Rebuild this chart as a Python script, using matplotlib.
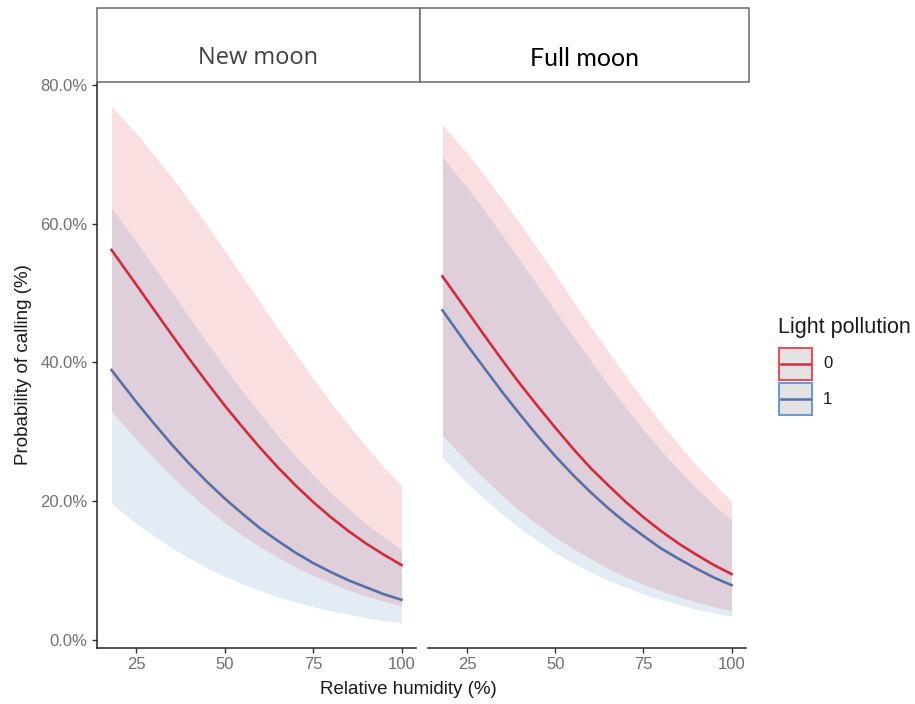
import matplotlib
matplotlib.use('Agg')
import matplotlib.pyplot as plt
from matplotlib.ticker import PercentFormatter
from matplotlib.patches import Rectangle

plt.rcParams['font.family'] = ['Liberation Sans', 'DejaVu Sans']

# humidity values the predictions were read at
humidity = [18, 25, 30, 35, 40, 45, 50, 55, 60, 65, 70, 75, 80, 85, 90, 95, 100]

# New moon panel, light pollution 0 / 1 (percent)
new_lp0_fit = [56.2, 51.2, 47.6, 44.0, 40.5, 37.1, 33.8, 30.7, 27.7, 24.9, 22.3, 19.9, 17.7, 15.7, 13.9, 12.3, 10.8]
new_lp0_lo = [33.0, 28.9, 26.2, 23.6, 21.2, 19.0, 16.9, 15.1, 13.4, 11.9, 10.5, 9.3, 8.2, 7.2, 6.3, 5.6, 4.9]
new_lp0_hi = [76.9, 73.0, 69.9, 66.7, 63.3, 59.8, 56.1, 52.4, 48.7, 44.9, 41.3, 37.7, 34.2, 31.0, 27.9, 24.9, 22.3]
new_lp1_fit = [38.9, 34.3, 31.2, 28.2, 25.4, 22.8, 20.4, 18.2, 16.1, 14.3, 12.6, 11.1, 9.8, 8.6, 7.6, 6.6, 5.8]
new_lp1_lo = [19.7, 16.8, 15.0, 13.3, 11.8, 10.4, 9.2, 8.1, 7.1, 6.2, 5.5, 4.8, 4.2, 3.7, 3.2, 2.8, 2.5]
new_lp1_hi = [62.3, 57.4, 53.8, 50.2, 46.5, 42.9, 39.3, 35.9, 32.6, 29.5, 26.5, 23.8, 21.2, 18.9, 16.7, 14.8, 13.0]

# Full moon panel
full_lp0_fit = [52.4, 47.4, 43.8, 40.3, 36.9, 33.7, 30.6, 27.6, 24.8, 22.3, 19.9, 17.7, 15.7, 13.9, 12.3, 10.8, 9.5]
full_lp0_lo = [29.5, 25.7, 23.2, 20.8, 18.6, 16.6, 14.8, 13.2, 11.7, 10.3, 9.1, 8.0, 7.1, 6.2, 5.5, 4.8, 4.2]
full_lp0_hi = [74.3, 70.1, 66.9, 63.5, 60.0, 56.4, 52.7, 48.9, 45.2, 41.6, 38.0, 34.6, 31.3, 28.2, 25.2, 22.5, 20.0]
full_lp1_fit = [47.5, 42.5, 39.1, 35.7, 32.5, 29.4, 26.5, 23.8, 21.3, 19.0, 16.9, 15.0, 13.2, 11.7, 10.3, 9.0, 7.9]
full_lp1_lo = [26.3, 22.6, 20.3, 18.1, 16.1, 14.3, 12.6, 11.1, 9.8, 8.6, 7.6, 6.6, 5.8, 5.1, 4.4, 3.9, 3.4]
full_lp1_hi = [69.6, 65.2, 61.8, 58.3, 54.7, 51.1, 47.4, 43.8, 40.3, 36.8, 33.5, 30.3, 27.3, 24.5, 21.9, 19.5, 17.3]

panels = ['New moon', 'Full moon']
legend_labels = ['0', '1']
x_ticks = [25, 50, 75, 100]
y_ticks = [0, 20, 40, 60, 80]

red = '#d42b3c'
blue = '#5870a8'
red_fill = '#e42a37'
blue_fill = '#447ab6'

W, H = 915, 704
fig = plt.figure(figsize=(W / 100, H / 100), dpi=100)


def fax(x0, y0, x1, y1):
    # pixel box (top-left origin) -> figure fraction
    return [x0 / W, 1 - y1 / H, (x1 - x0) / W, (y1 - y0) / H]


ax1 = fig.add_axes(fax(97, 82, 416, 648))
ax2 = fig.add_axes(fax(428, 82, 746, 648))

series = [
    (ax1, new_lp0_fit, new_lp0_lo, new_lp0_hi, new_lp1_fit, new_lp1_lo, new_lp1_hi),
    (ax2, full_lp0_fit, full_lp0_lo, full_lp0_hi, full_lp1_fit, full_lp1_lo, full_lp1_hi),
]

for ax, f0, lo0, hi0, f1, lo1, hi1 in series:
    ax.fill_between(humidity, lo0, hi0, color=red_fill, alpha=0.15, linewidth=0)
    ax.fill_between(humidity, lo1, hi1, color=blue_fill, alpha=0.15, linewidth=0)
    ax.plot(humidity, f0, color=red, lw=1.9, solid_joinstyle='round')
    ax.plot(humidity, f1, color=blue, lw=1.9, solid_joinstyle='round')
    ax.set_xlim(13.9, 104.1)
    ax.set_ylim(-1.15, 80.4)
    ax.set_xticks(x_ticks)
    ax.set_yticks(y_ticks)
    ax.yaxis.set_major_formatter(PercentFormatter(xmax=100, decimals=1))
    for s in ['top', 'right']:
        ax.spines[s].set_visible(False)
    for s in ['left', 'bottom']:
        ax.spines[s].set_linewidth(1.1)
        ax.spines[s].set_color('#222222')
    ax.tick_params(length=3.8, width=1.0, color='#333333', labelcolor='#707070',
                   labelsize=12, pad=3)
    ax.patch.set_visible(False)

ax2.spines['left'].set_visible(False)
ax2.tick_params(axis='y', left=False, labelleft=False)

ax1.set_ylabel('Probability of calling (%)', fontsize=13.5, color='#1a1a1a', labelpad=6)
fig.text(408 / W, 1 - 690 / H, 'Relative humidity (%)', fontsize=13.5,
         color='#1a1a1a', ha='center', va='center')

# facet strips
strip_boxes = [(97, 8, 420, 82), (420, 8, 749, 82)]
strip_fonts = [('Open Sans', '#404040', 17), ('Lato', '#000000', 18)]
for (x0, y0, x1, y1), name, (fam, col, fs) in zip(strip_boxes, panels, strip_fonts):
    fig.add_artist(Rectangle((x0 / W, 1 - y1 / H), (x1 - x0) / W, (y1 - y0) / H,
                             transform=fig.transFigure, facecolor='white',
                             edgecolor='#6a6a6a', lw=1.1))
    fig.text((x0 + x1) / 2 / W, 1 - 58 / H, name, family=[fam, 'DejaVu Sans'],
             fontsize=fs, color=col, ha='center', va='center')

# legend
fig.text(778 / W, 1 - 327 / H, 'Light pollution', fontsize=15.5, color='#1a1a1a',
         va='center', ha='left')
key_tops = [348, 383]
for top, lab, col, edge in zip(key_tops, legend_labels, [red, blue], ['#e8505a', '#6b9bd2']):
    fig.add_artist(Rectangle((779 / W, 1 - (top + 32) / H), 33 / W, 32 / H,
                             transform=fig.transFigure, facecolor='#e3e3e3',
                             edgecolor=edge, lw=1.5))
    fig.add_artist(plt.Line2D([781 / W, 810 / W], [1 - (top + 16) / H] * 2,
                              transform=fig.transFigure, color=col, lw=1.8))
    fig.text(823 / W, 1 - (top + 16) / H, lab, fontsize=12, color='#1a1a1a',
             va='center', ha='left')

fig.savefig('out.png', dpi=100)
